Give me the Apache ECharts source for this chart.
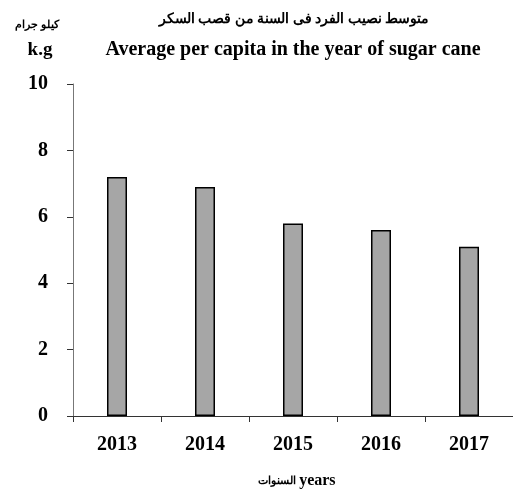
<!DOCTYPE html>
<html>
<head>
<meta charset="utf-8">
<script src="https://cdn.jsdelivr.net/npm/echarts@6/dist/echarts.min.js"></script>
<style>
html,body{margin:0;padding:0;background:#fff;}
#main{width:513px;height:499px;}
</style>
</head>
<body>
<div id="main"></div>
<script>
// data
var years = ['2013', '2014', '2015', '2016', '2017'];
var perCapita = [7.2, 6.9, 5.8, 5.6, 5.1];
var yTicks = [0, 2, 4, 6, 8, 10];

var serif = '"Liberation Serif", "DejaVu Serif", serif';

var myChart = echarts.init(document.getElementById('main'));
myChart.setOption({
	backgroundColor: '#fff',
	animation: false,
	title: [
		{// arabic title
			text: 'متوسط نصيب الفرد فى السنة من قصب السكر',
			left: 289, top: 7, textAlign: 'center',
			textStyle: {fontFamily: serif, fontSize: 14, fontWeight: 'bold', color: '#000'}
		},
		{
			text: 'Average per capita in the year of sugar cane',
			left: 288, top: 35, textAlign: 'center',
			textStyle: {fontFamily: serif, fontSize: 20, fontWeight: 'bold', color: '#000'}
		},
		{// unit
			text: 'كيلو جرام',
			left: 32, top: 15, textAlign: 'center',
			textStyle: {fontFamily: serif, fontSize: 11, fontWeight: 'bold', color: '#000'}
		},
		{
			text: 'k.g',
			left: 35, top: 36, textAlign: 'center',
			textStyle: {fontFamily: serif, fontSize: 19, fontWeight: 'bold', color: '#000'}
		},
		{// x name
			text: 'السنوات ' + '{b|years}',
			left: 292, top: 468, textAlign: 'center',
			textStyle: {fontFamily: serif, fontSize: 11, fontWeight: 'bold', color: '#000',
				rich: {b: {fontFamily: serif, fontSize: 16, fontWeight: 'bold', color: '#000'}}}
		}
	],
	grid: {left: 73, right: 0, top: 84, bottom: 83},
	xAxis: {
		type: 'category',
		data: years,
		axisLine: {lineStyle: {color: '#333', width: 1}},
		axisTick: {show: true, alignWithLabel: false, length: 6, lineStyle: {color: '#333'}},
		axisLabel: {margin: 19, fontFamily: serif, fontSize: 20, fontWeight: 'bold', color: '#000'}
	},
	yAxis: {
		type: 'value',
		min: yTicks[0],
		max: yTicks[yTicks.length - 1],
		interval: 2,
		splitLine: {show: false},
		axisLine: {show: true, lineStyle: {color: '#777', width: 1}},
		axisTick: {show: true, length: 6, lineStyle: {color: '#333'}},
		axisLabel: {margin: 25, fontFamily: serif, fontSize: 20, fontWeight: 'bold', color: '#000'}
	},
	series: [{
		type: 'bar',
		data: perCapita,
		barWidth: 20,
		itemStyle: {color: '#a6a6a6', borderColor: '#000', borderWidth: 1.5}
	}]
});
</script>
</body>
</html>
